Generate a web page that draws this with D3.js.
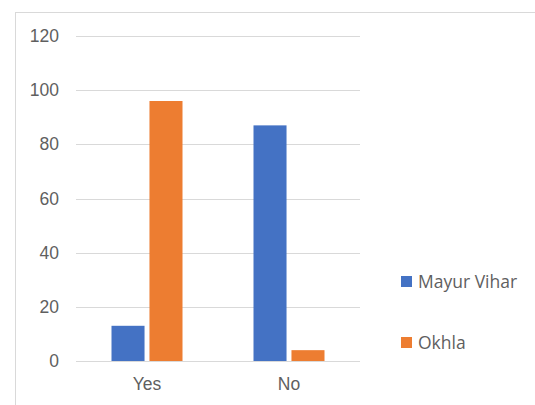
<!DOCTYPE html>
<html>
<head>
<meta charset="utf-8">
<script src="https://cdn.jsdelivr.net/npm/d3@7"></script>
<style>
  body { margin: 0; background: #fff; }
  svg { display: block; font-family: "Open Sans", "Liberation Sans", sans-serif; }
</style>
</head>
<body>
<div id="chart"></div>
<script>
// data
var categories = ['Yes', 'No'];
var seriesNames = ['Mayur Vihar', 'Okhla'];
var mayurVihar = [13, 87];
var okhla = [96, 4];
var yTicks = [0, 20, 40, 60, 80, 100, 120];
var colors = ['#4472C4', '#ED7D31'];

var W = 535, H = 405;
var plot = {left: 76, right: 360, top: 36, bottom: 361};
var fontSize = '17.5px';

var svg = d3.select('#chart').append('svg')
  .attr('width', W)
  .attr('height', H);

// chart frame (runs off the right / bottom edge)
svg.append('rect')
  .attr('x', 15.5).attr('y', 12.5)
  .attr('width', 540).attr('height', 420)
  .attr('fill', '#fff')
  .attr('stroke', '#d9d9d9');

var y = d3.scaleLinear()
  .domain([0, 120])
  .range([plot.bottom, plot.top]);

var x0 = d3.scaleBand()
  .domain(categories)
  .range([plot.left, plot.right]);

var x1 = d3.scaleBand()
  .domain(seriesNames)
  .range([0, 71])
  .paddingInner(0.13);

// gridlines
svg.append('g')
  .selectAll('line')
  .data(yTicks)
  .enter().append('line')
    .attr('x1', plot.left).attr('x2', plot.right)
    .attr('y1', function(d) { return Math.round(y(d)) + 0.5; })
    .attr('y2', function(d) { return Math.round(y(d)) + 0.5; })
    .attr('stroke', '#d9d9d9');

// y axis labels
var yAxis = d3.axisLeft(y).tickValues(yTicks).tickSize(0).tickPadding(0);
svg.append('g')
  .attr('transform', 'translate(59,0)')
  .call(yAxis)
  .call(function(g) { g.select('.domain').remove(); })
  .selectAll('text')
    .attr('fill', '#5f5f5f')
    .style('font-size', fontSize);

// bars
var rows = categories.map(function(c, i) {
  return {cat: c, values: [mayurVihar[i], okhla[i]]};
});

var groups = svg.append('g').selectAll('g')
  .data(rows)
  .enter().append('g')
    .attr('transform', function(d) {
      return 'translate(' + (x0(d.cat) + (x0.bandwidth() - 71) / 2) + ',0)';
    });

groups.selectAll('rect')
  .data(function(d) { return d.values.map(function(v, i) { return {s: seriesNames[i], v: v, i: i}; }); })
  .enter().append('rect')
    .attr('x', function(d) { return x1(d.s); })
    .attr('y', function(d) { return y(d.v); })
    .attr('width', x1.bandwidth())
    .attr('height', function(d) { return y(0) - y(d.v); })
    .attr('fill', function(d) { return colors[d.i]; });

// category labels
var xAxis = d3.axisBottom(x0).tickSize(0).tickPadding(0);
svg.append('g')
  .attr('transform', 'translate(0,' + (plot.bottom + 17) + ')')
  .call(xAxis)
  .call(function(g) { g.select('.domain').remove(); })
  .selectAll('text')
    .attr('fill', '#5f5f5f')
    .style('font-size', fontSize);

// legend
var legend = svg.append('g').selectAll('g')
  .data(seriesNames)
  .enter().append('g')
    .attr('transform', function(d, i) { return 'translate(401,' + (276 + i * 61) + ')'; });

legend.append('rect')
  .attr('width', 11).attr('height', 11)
  .attr('fill', function(d, i) { return colors[i]; });

legend.append('text')
  .attr('x', 17).attr('y', 11.5)
  .attr('fill', '#5f5f5f')
  .style('font-size', fontSize)
  .text(function(d) { return d; });
</script>
</body>
</html>
